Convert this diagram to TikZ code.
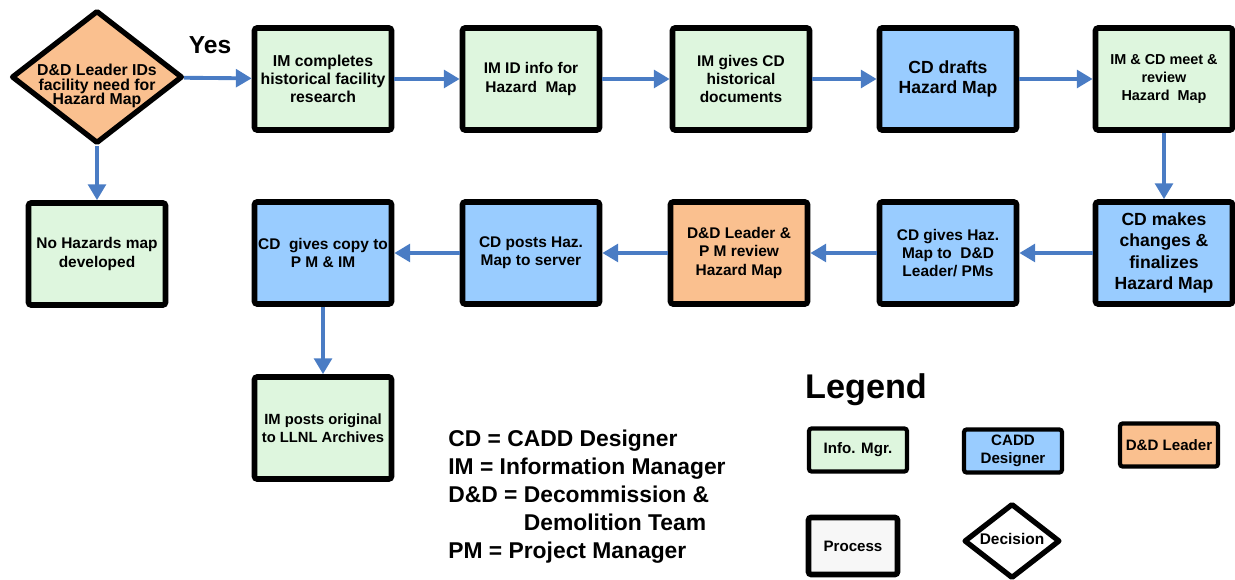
\documentclass[tikz,border=0pt]{standalone}
\usepackage{fontspec}
\setmainfont{Liberation Sans}
\usetikzlibrary{shapes.geometric,arrows.meta}
\definecolor{imgreen}{RGB}{222,246,222}
\definecolor{cdblue}{RGB}{153,204,255}
\definecolor{ddorange}{RGB}{250,192,143}
\definecolor{flowblue}{RGB}{74,124,196}
\begin{document}
\begin{tikzpicture}[x=0.02cm, y=-0.02cm,
        box/.style = {draw, line width=3.2pt, rounded corners=1.5pt, minimum width=2.74cm, minimum height=2.04cm, inner sep=1pt, align=center, font=\bfseries\fontsize{8.8}{10.4}\selectfont},
        im/.style = {box, fill=imgreen},
        cd/.style = {box, fill=cdblue},
        dd/.style = {box, fill=ddorange},
        legbox/.style = {draw, line width=2.4pt, rounded corners=1.5pt, minimum width=1.96cm, minimum height=0.86cm, inner sep=1pt, align=center, font=\bfseries\fontsize{8.6}{10}\selectfont},
        dia/.style = {draw, diamond, line width=3pt, line join=round, inner sep=0pt},
        flow/.style = {draw=flowblue, line width=2.2pt, -{Triangle[length=9pt,width=10pt]}}]
        \useasboundingbox (0,0) rectangle (1235,580);

        \node[dia, fill=ddorange, minimum width=3.42cm, minimum height=2.66cm] (need) at (97,77) {};
        \node[align=center, inner sep=0pt, font=\bfseries\fontsize{9}{8.4}\selectfont] (needtxt) at (97,86) {D\&D Leader IDs\\facility need for\\Hazard Map};
        \node[font=\bfseries\fontsize{14}{16}\selectfont] (yes) at (210,45) {Yes};

        \node[im, font=\bfseries\fontsize{9}{10.4}\selectfont] (b1) at (323,79) {IM completes\\historical facility\\research};
        \node[im] (b2) at (531,79) {IM ID info for\\Hazard\ \ Map};
        \node[im] (b3) at (741,79) {IM gives CD\\historical\\documents};
        \node[cd, font=\bfseries\fontsize{10}{11.4}\selectfont] (b4) at (948,79) {CD drafts\\Hazard Map};
        \node[im, font=\bfseries\fontsize{8.2}{10.4}\selectfont] (b5) at (1164,79) {IM \& CD meet \&\\review\\Hazard\ \ Map};

        \node[cd, font=\bfseries\fontsize{10}{12.2}\selectfont] (b6) at (1164,253) {CD makes\\changes \&\\finalizes\\Hazard Map};
        \node[cd] (b7) at (948,253) {CD gives Haz.\\Map to\ \ D\&D\\Leader/ PMs};
        \node[dd] (b8) at (739,253) {D\&D Leader \&\\P M review\\Hazard Map};
        \node[cd] (b9) at (531,253) {CD posts Haz.\\Map to server};
        \node[cd] (b10) at (323,253) {CD\ \ gives copy to\\P M \& IM};
        \node[im] (nomap) at (97,254) {No Hazards map\\developed};
        \node[im, font=\bfseries\fontsize{8.4}{10.4}\selectfont] (b11) at (323,428) {IM posts original\\to LLNL Archives};

        \draw[flow] (need) -- (b1);
        \draw[flow] (b1) -- (b2);
        \draw[flow] (b2) -- (b3);
        \draw[flow] (b3) -- (b4);
        \draw[flow] (b4) -- (b5);
        \draw[flow] (b5) -- (b6);
        \draw[flow] (b6) -- (b7);
        \draw[flow] (b7) -- (b8);
        \draw[flow] (b8) -- (b9);
        \draw[flow] (b9) -- (b10);
        \draw[flow] (need) -- (nomap);
        \draw[flow] (b10) -- (b11);

        \node[anchor=north west, inner sep=0pt, align=left, font=\bfseries\fontsize{13}{15.9}\selectfont] (abbr) at (448,430) {CD = CADD Designer\\IM = Information Manager\\D\&D = Decommission \&\\\phantom{D\&D = }Demolition Team\\PM = Project Manager};

        \node[font=\bfseries\fontsize{19.5}{22}\selectfont] (legend) at (866,390) {Legend};
        \node[legbox, fill=imgreen] (kim) at (858,450) {Info. Mgr.};
        \node[legbox, fill=cdblue] (kcd) at (1013,451) {CADD\\Designer};
        \node[legbox, fill=ddorange] (kdd) at (1169,445) {D\&D Leader};
        \node[legbox, line width=3.2pt, fill=gray!6, minimum width=1.78cm, minimum height=1.14cm] (kproc) at (853,546) {Process};
        \node[dia, fill=white, minimum width=1.92cm, minimum height=1.5cm] (kdec) at (1012,541) {};
        \node[inner sep=0pt, font=\bfseries\fontsize{8.8}{10}\selectfont] (kdectxt) at (1012,539) {Decision};
    \end{tikzpicture}
\end{document}
